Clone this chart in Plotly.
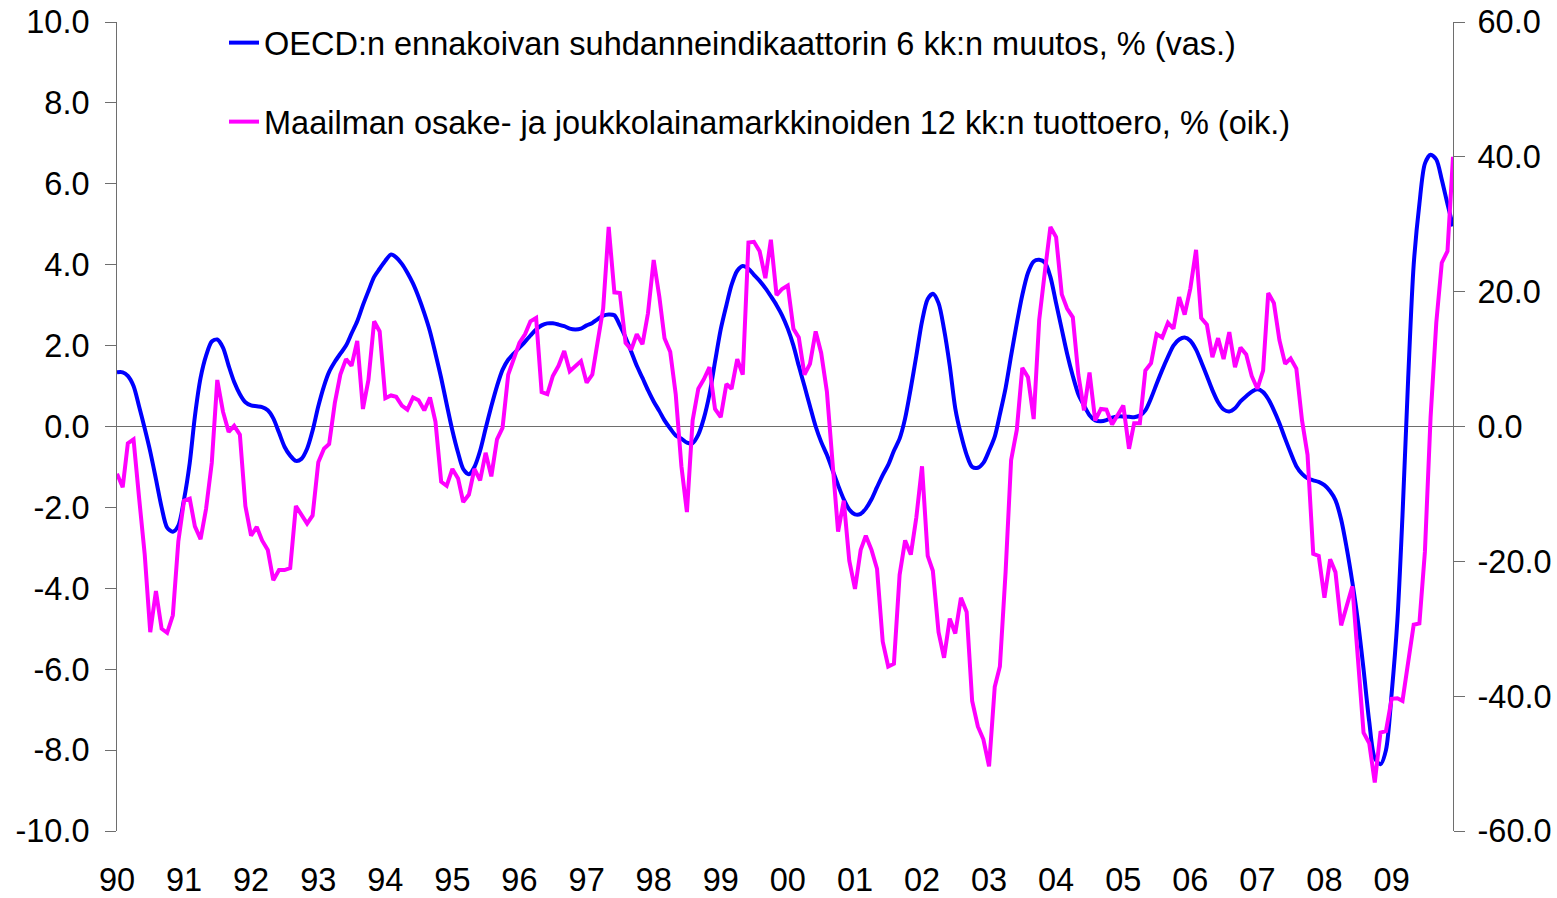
import pandas as pd
import plotly.graph_objects as go

# Monthly observations Jan 1990 - Dec 2009
months = pd.date_range("1990-01-01", periods=240, freq="MS")

# OECD leading indicator, 6-month change, % (left axis)
oecd = [
    1.34, 1.34, 1.25, 1.0, 0.5, -0.05, -0.62, -1.3, -2.0, -2.5, -2.6,
    -2.45, -1.8, -0.9, 0.25, 1.2, 1.75, 2.1, 2.15, 1.95, 1.5,
    1.1, 0.8, 0.6, 0.52, 0.5, 0.48, 0.4, 0.2, -0.15, -0.5,
    -0.72, -0.85, -0.8, -0.55, -0.1, 0.5, 1.0, 1.35, 1.6, 1.8,
    2.0, 2.3, 2.6, 3.0, 3.35, 3.7, 3.9, 4.1, 4.25, 4.18,
    4.02, 3.8, 3.53, 3.2, 2.8, 2.35, 1.8, 1.2, 0.55, -0.1,
    -0.65, -1.05, -1.18, -1.0, -0.6, -0.05, 0.5, 1.0, 1.4, 1.65,
    1.8, 1.95, 2.1, 2.25, 2.4, 2.5, 2.55, 2.55, 2.52, 2.48,
    2.42, 2.4, 2.42, 2.5, 2.56, 2.65, 2.74, 2.77, 2.75, 2.5,
    2.2, 1.85, 1.5, 1.2, 0.9, 0.62, 0.38, 0.15, -0.05, -0.22,
    -0.3, -0.4, -0.41, -0.2, 0.2, 0.8, 1.6, 2.4, 3.0, 3.5,
    3.85, 3.97, 3.9, 3.75, 3.6, 3.42, 3.22, 3.0, 2.75, 2.42,
    2.0, 1.5, 1.0, 0.5, 0.0, -0.38, -0.7, -1.08, -1.45, -1.8,
    -2.05, -2.17, -2.16, -2.03, -1.8, -1.5, -1.2, -0.95, -0.6, -0.3,
    0.2, 0.95, 1.75, 2.6, 3.15, 3.28, 3.05, 2.4, 1.5, 0.45,
    -0.2, -0.7, -1.0, -1.02, -0.9, -0.6, -0.25, 0.3, 0.95, 1.75,
    2.55, 3.25, 3.8, 4.08, 4.12, 4.05, 3.7, 3.05, 2.4, 1.8,
    1.25, 0.8, 0.52, 0.28, 0.15, 0.13, 0.16, 0.22, 0.25, 0.25,
    0.24, 0.23, 0.27, 0.4, 0.7, 1.05, 1.4, 1.72, 2.0, 2.15,
    2.2, 2.12, 1.9, 1.6, 1.25, 0.9, 0.6, 0.42, 0.37, 0.45,
    0.62, 0.75, 0.86, 0.92, 0.85, 0.68, 0.4, 0.08, -0.3, -0.65,
    -0.98, -1.17, -1.28, -1.33, -1.37, -1.45, -1.6, -1.82, -2.3, -3.0,
    -3.85, -4.8, -6.0, -7.3, -8.2, -8.35, -8.0, -6.6, -4.8, -2.2,
    1.2, 4.0, 5.5, 6.5, 6.72, 6.6, 6.1, 5.5, 4.95,
]

# Equity vs. corporate bond 12-month return difference, % (right axis)
spread = [
    -7.0, -9.0, -2.5, -1.9, -10.5, -19.0, -30.5, -24.4, -30.0, -30.6, -28.0,
    -17.0, -11.0, -10.7, -14.8, -16.7, -12.2, -5.4, 6.9, 2.2, -0.8,
    0.1, -1.2, -11.8, -16.2, -14.9, -16.9, -18.3, -22.8, -21.3, -21.3,
    -21.0, -11.8, -13.1, -14.4, -13.2, -5.3, -3.3, -2.6, 3.5, 7.7,
    10.0, 9.0, 12.7, 2.6, 6.9, 15.6, 14.1, 4.2, 4.6, 4.4,
    3.1, 2.5, 4.3, 3.9, 2.4, 4.3, 0.7, -8.2, -8.8, -6.3,
    -7.7, -11.2, -10.1, -6.3, -8.0, -3.9, -7.4, -1.9, -0.2, 7.7,
    10.0, 12.4, 13.7, 15.6, 16.1, 5.1, 4.8, 7.5, 9.0, 11.2,
    8.2, 9.0, 9.7, 6.5, 7.7, 12.4, 17.5, 29.6, 19.9, 19.8,
    12.4, 11.4, 13.7, 12.2, 16.8, 24.7, 19.2, 13.1, 11.1, 4.8,
    -5.9, -12.7, 0.9, 5.6, 7.0, 8.8, 2.6, 1.4, 6.3, 5.6,
    10.0, 7.7, 27.3, 27.4, 26.0, 22.0, 27.7, 19.5, 20.4, 20.9,
    14.5, 13.2, 7.7, 9.3, 14.1, 10.9, 5.2, -5.4, -15.6, -11.0,
    -19.9, -24.1, -18.3, -16.2, -18.3, -21.1, -31.9, -35.6, -35.2, -22.0,
    -16.9, -19.0, -13.5, -5.9, -19.2, -21.4, -30.5, -34.3, -28.5, -30.7,
    -25.4, -27.5, -40.7, -44.5, -46.4, -50.4, -38.6, -35.6, -21.6, -5.0,
    -0.5, 8.7, 7.3, 1.1, 15.8, 23.0, 29.6, 28.1, 19.6, 17.5,
    16.2, 7.7, 2.4, 8.0, 0.9, 2.6, 2.5, 0.3, 1.6, 3.1,
    -3.3, 0.5, 0.5, 8.3, 9.4, 13.7, 13.2, 15.4, 14.5, 19.2,
    16.6, 20.5, 26.2, 16.1, 15.1, 10.3, 13.1, 10.0, 14.0, 8.8,
    11.7, 10.7, 7.5, 5.6, 8.3, 19.8, 18.3, 12.8, 9.3, 10.1,
    8.6, 0.9, -4.2, -18.9, -19.2, -25.4, -19.7, -21.6, -29.5, -26.4,
    -23.7, -34.3, -45.4, -47.0, -52.8, -45.4, -45.2, -40.4, -40.3, -40.7,
    -35.0, -29.4, -29.2, -18.6, 1.4, 15.4, 24.3, 26.0, 40.0,
]

name_oecd = "OECD:n ennakoivan suhdanneindikaattorin 6 kk:n muutos, % (vas.)"
name_spread = "Maailman osake- ja joukkolainamarkkinoiden 12 kk:n tuottoero, % (oik.)"

left_ticks = [-10, -8, -6, -4, -2, 0, 2, 4, 6, 8, 10]
right_ticks = [-60, -40, -20, 0, 20, 40, 60]

FONT = "Liberation Sans, Arial, sans-serif"
FS = 32.5
AXIS_COL = "#6e6e6e"

fig = go.Figure()
fig.add_trace(go.Scatter(
    x=months, y=oecd, name=name_oecd, mode="lines",
    line=dict(color="#0000FF", width=4, shape="spline", smoothing=0.8),
    yaxis="y", legend="legend",
))
fig.add_trace(go.Scatter(
    x=months, y=spread, name=name_spread, mode="lines",
    line=dict(color="#FF00FF", width=4),
    yaxis="y2", legend="legend2",
))

fig.update_layout(
    width=1557, height=898,
    margin=dict(l=117, r=104, t=22, b=67),
    paper_bgcolor="white", plot_bgcolor="white",
    font=dict(family=FONT, size=FS, color="black"),
    xaxis=dict(
        type="date", automargin=False,
        range=[months[0], months[-1]],
        tick0="1990-01-01", dtick="M12", tickformat="%y",
        ticks="", showline=False, showgrid=False, zeroline=False,
        tickfont=dict(size=FS), ticklabelstandoff=26,
    ),
    yaxis=dict(
        automargin=False,
        range=[-10, 10], tickvals=left_ticks,
        ticktext=[f"{v:.1f}" for v in left_ticks],
        ticks="outside", ticklen=11, tickwidth=1, tickcolor=AXIS_COL,
        showline=True, linecolor=AXIS_COL, linewidth=1,
        showgrid=False, zeroline=True, zerolinecolor=AXIS_COL, zerolinewidth=1,
        tickfont=dict(size=FS), ticklabelstandoff=9,
    ),
    yaxis2=dict(
        automargin=False,
        range=[-60, 60], tickvals=right_ticks,
        ticktext=[f"{v:.1f}" for v in right_ticks],
        overlaying="y", side="right",
        ticks="outside", ticklen=11, tickwidth=1, tickcolor=AXIS_COL,
        showline=True, linecolor=AXIS_COL, linewidth=1,
        showgrid=False, zeroline=False,
        tickfont=dict(size=FS), ticklabelstandoff=6,
    ),
    legend=dict(
        x=(224 - 117) / 1336, y=1 - (43 - 22) / 809,
        xanchor="left", yanchor="middle",
        bgcolor="rgba(0,0,0,0)", borderwidth=0,
        font=dict(size=FS, family=FONT),
    ),
    legend2=dict(
        x=(224 - 117) / 1336, y=1 - (122 - 22) / 809,
        xanchor="left", yanchor="middle",
        bgcolor="rgba(0,0,0,0)", borderwidth=0,
        font=dict(size=FS, family=FONT),
    ),
    showlegend=True,
)

# remove the default 8px page margin so the figure fills the window exactly
fig.write_html(
    "out.html",
    config={"displayModeBar": False},
    post_script="document.body.style.margin='0';document.body.style.overflow='hidden';",
)
